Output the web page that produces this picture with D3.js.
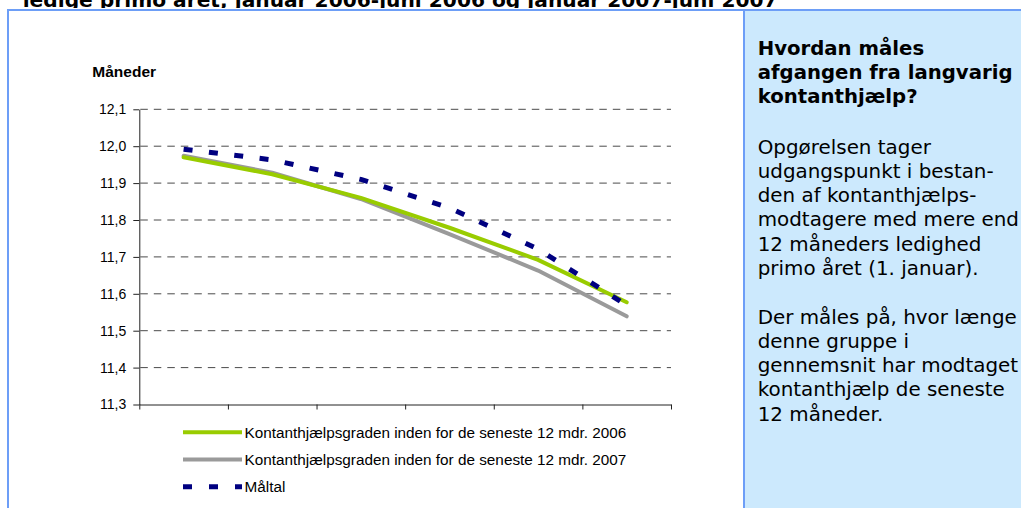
<!DOCTYPE html>
<html>
<head>
<meta charset="utf-8">
<script src="https://cdn.jsdelivr.net/npm/d3@7"></script>
<style>
  body { margin: 0; background: #ffffff; }
  svg { display: block; }
</style>
</head>
<body>
<script>
// data (x axis has no labels, so months are just categories)
var categories = ['jan', 'feb', 'mar', 'apr', 'maj', 'jun'];
var series_2006 = [11.970, 11.924, 11.860, 11.779, 11.692, 11.577];
var series_2007 = [11.974, 11.928, 11.857, 11.762, 11.663, 11.539];
var series_maal = [11.992, 11.963, 11.910, 11.833, 11.721, 11.569];
var y_ticks = [11.3, 11.4, 11.5, 11.6, 11.7, 11.8, 11.9, 12.0, 12.1];
var legend_labels = [
  'Kontanthjælpsgraden inden for de seneste 12 mdr. 2006',
  'Kontanthjælpsgraden inden for de seneste 12 mdr. 2007',
  'Måltal'
];
var title_text = 'ledige primo året, januar 2006-juni 2006 og januar 2007-juni 2007';
var box_heading = ['Hvordan måles', 'afgangen fra langvarig', 'kontanthjælp?'];
var box_para1 = ['Opgørelsen tager', 'udgangspunkt i bestan-', 'den af kontanthjælps-',
  'modtagere med mere end', '12 måneders ledighed', 'primo året (1. januar).'];
var box_para2 = ['Der måles på, hvor længe', 'denne gruppe i', 'gennemsnit har modtaget',
  'kontanthjælp de seneste', '12 måneder.'];

var width = 1021, height = 508;
var border_col = '#6d9ef7';

var svg = d3.select('body').append('svg').attr('width', width).attr('height', height);

// cut-off title above the frame
svg.append('text').attr('x', 22.7).attr('y', 6.5)
  .attr('font-family', 'DejaVu Sans, Verdana, sans-serif').attr('font-weight', 'bold')
  .attr('font-size', '20.2px').attr('fill', '#000').text(title_text);
svg.append('rect').attr('x', 0).attr('y', 8).attr('width', width).attr('height', height - 8).attr('fill', '#fff');

// right info panel
svg.append('rect').attr('x', 744).attr('y', 10).attr('width', width - 744).attr('height', height - 10).attr('fill', '#cce9fd');
svg.append('line').attr('x1', 744).attr('x2', 744).attr('y1', 10).attr('y2', height).attr('stroke', border_col).attr('stroke-width', 2);
svg.append('line').attr('x1', 8).attr('x2', 8).attr('y1', 9).attr('y2', height).attr('stroke', border_col).attr('stroke-width', 2);
svg.append('line').attr('x1', 7).attr('x2', width).attr('y1', 10).attr('y2', 10).attr('stroke', border_col).attr('stroke-width', 2);

var panel = svg.append('g').attr('font-family', 'DejaVu Sans, Verdana, sans-serif').attr('font-size', '19.9px').attr('fill', '#000');
function panel_lines(lines, y0, bold)  {
  lines.forEach(function(t, i)  {
    panel.append('text').attr('x', 757.7).attr('y', y0 + i * 24.3)
      .attr('font-size', bold ? '19.7px' : null)
      .attr('font-weight', bold ? 'bold' : 'normal').text(t);
  });
}
panel_lines(box_heading, 54.5, true);
panel_lines(box_para1, 153.5, false);
panel_lines(box_para2, 323.5, false);

// scales
var x_left = 139.3, x_right = 671, y_top = 109.3, y_bottom = 404.5;
var x_scale = d3.scaleBand().domain(categories).range([x_left, x_right]);
var x_edges = d3.scaleLinear().domain([0, categories.length]).range([x_left, x_right]);
var y_scale = d3.scaleLinear().domain([11.3, 12.1]).range([y_bottom, y_top]);
var fmt = function(d) { return d.toFixed(1).replace('.', ','); };

// dashed gridlines
svg.append('g').selectAll('line').data(y_ticks.slice(1)).enter().append('line')
  .attr('x1', x_left + 1).attr('x2', x_right)
  .attr('y1', d => y_scale(d)).attr('y2', d => y_scale(d))
  .attr('stroke', '#4a4a4a').attr('stroke-width', 1).attr('stroke-dasharray', '7.5,6');

// axes
var y_axis = svg.append('g').attr('transform', 'translate(' + x_left + ',0)')
  .call(d3.axisLeft(y_scale).tickValues(y_ticks).tickFormat(fmt).tickSize(6).tickSizeOuter(0).tickPadding(7));
var x_axis = svg.append('g').attr('transform', 'translate(0,' + y_bottom + ')')
  .call(d3.axisBottom(x_edges).tickValues(d3.range(categories.length + 1)).tickFormat('').tickSize(5).tickSizeOuter(0));
[y_axis, x_axis].forEach(function(a)  {
  a.selectAll('path, line').attr('stroke', '#222');
  a.selectAll('text').attr('font-family', 'Liberation Sans, Arial, sans-serif').attr('font-size', '14px').attr('fill', '#000');
});

svg.append('text').attr('x', 92.3).attr('y', 77)
  .attr('font-family', 'Liberation Sans, Arial, sans-serif').attr('font-weight', 'bold')
  .attr('font-size', '15.5px').text('Måneder');

// lines
var line_scale = d3.line()
  .x((d, i) => x_scale(categories[i]) + x_scale.bandwidth() / 2)
  .y(d => y_scale(d));
var styles = [
  {values: series_2006, color: '#99cc00', w: 4, dash: null},
  {values: series_2007, color: '#9a9a9a', w: 4, dash: null},
  {values: series_maal, color: '#000080', w: 5, dash: '9,16.5'}
];
// grey drawn first so green sits on top, then the target line
[styles[1], styles[0], styles[2]].forEach(function(s)  {
  svg.append('path').attr('d', line_scale(s.values)).attr('fill', 'none')
    .attr('stroke', s.color).attr('stroke-width', s.w)
    .attr('stroke-linejoin', 'round').attr('stroke-linecap', s.dash ? 'butt' : 'round')
    .attr('stroke-dasharray', s.dash);
});

// legend
var legend = svg.append('g').selectAll('g').data(styles).enter().append('g')
  .attr('transform', (d, i) => 'translate(0,' + (432.3 + i * 27.2) + ')');
legend.append('line').attr('x1', 183).attr('x2', 242).attr('y1', 0).attr('y2', 0)
  .attr('stroke', d => d.color).attr('stroke-width', d => d.w)
  .attr('stroke-dasharray', d => d.dash ? '9,17' : null);
legend.append('text').attr('x', 244.5).attr('y', 5.5)
  .attr('font-family', 'Liberation Sans, Arial, sans-serif').attr('font-size', '15.3px')
  .attr('fill', '#000').text((d, i) => legend_labels[i]);
</script>
</body>
</html>
